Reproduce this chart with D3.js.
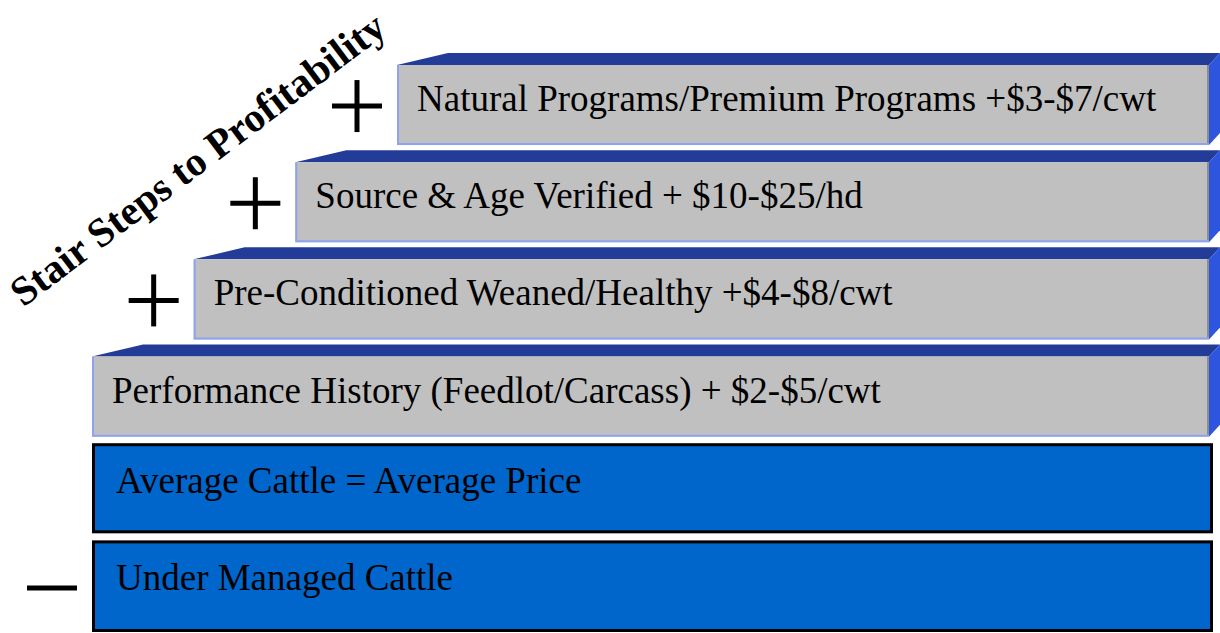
<!DOCTYPE html>
<html>
<head>
<meta charset="utf-8">
<script src="https://cdn.jsdelivr.net/npm/d3@7"></script>
<style>
  body { margin: 0; background: #ffffff; }
  svg { display: block; }
</style>
</head>
<body>
<div id="chart"></div>
<script>
// Data
const stepLabels = [
    "Under Managed Cattle",
    "Average Cattle = Average Price",
    "Performance History (Feedlot/Carcass) + $2-$5/cwt",
    "Pre-Conditioned Weaned/Healthy +$4-$8/cwt",
    "Source & Age Verified + $10-$25/hd",
    "Natural Programs/Premium Programs +$3-$7/cwt"
];
const stepKinds = ["flat", "flat", "raised", "raised", "raised", "raised"];
const stepIndent = [0, 0, 0, 1, 2, 3];
const stepSigns = ["minus", "", "", "plus", "plus", "plus"];
const titleText = "Stair Steps to Profitability";

// Config
const CONFIG = {
    width: 1220,
    height: 633,
    frontRight: 1209,
    flatRight: 1213,
    depth: 12,       // top face height
    sideWidth: 11,   // right face width
    bevel: 51,       // slanted start of top face
    fontSize: 37,
    font: "'Liberation Serif', 'Times New Roman', serif",
    colors: {
        front: "#c0c0c0",
        top: "#233c98",
        side: "#2d55dd",
        frontEdge: "#8ea2ee",
        flat: "#0066cc"
    }
};

const svg = d3.select("#chart")
    .append("svg")
    .attr("width", CONFIG.width)
    .attr("height", CONFIG.height);

const rows = d3.range(stepLabels.length);

const yScale = d3.scaleBand()
    .domain(rows)
    .range([631, 53])
    .paddingInner(0.052)
    .paddingOuter(0);

const xScale = d3.scaleLinear()
    .domain([0, 3])
    .range([92, 397]);

const bh = yScale.bandwidth();

// Steps
const steps = svg.selectAll(".step")
    .data(rows)
    .enter()
    .append("g")
    .attr("class", "step");

steps.each(function(i) {
    const g = d3.select(this);
    const x0 = xScale(stepIndent[i]);
    const y0 = yScale(i);

    if (stepKinds[i] === "flat") {
        const top = y0 + 3;
        const h = i === 0 ? bh - 3.5 : bh - 5;   // bottom box is a bit taller
        g.append("rect")
            .attr("x", x0 + 1.5)
            .attr("y", top)
            .attr("width", CONFIG.flatRight - x0 - 3)
            .attr("height", h)
            .attr("fill", CONFIG.colors.flat)
            .attr("stroke", "#000")
            .attr("stroke-width", 3);
        g.append("text")
            .attr("x", x0 + 24)
            .attr("y", top + 48)
            .attr("font-family", CONFIG.font)
            .attr("font-size", CONFIG.fontSize)
            .attr("fill", "#000")
            .text(stepLabels[i]);
    } else {
        const ft = y0 + CONFIG.depth;
        const fb = y0 + bh;
        const xr = CONFIG.frontRight;
        // top face
        g.append("path")
            .attr("d", `M${x0},${ft} L${x0 + CONFIG.bevel},${y0} L${xr + CONFIG.sideWidth},${y0} L${xr},${ft} Z`)
            .attr("fill", CONFIG.colors.top);
        // right face
        g.append("path")
            .attr("d", `M${xr},${ft} L${xr + CONFIG.sideWidth},${y0} L${xr + CONFIG.sideWidth},${fb - CONFIG.depth} L${xr},${fb} Z`)
            .attr("fill", CONFIG.colors.side);
        // front face
        g.append("rect")
            .attr("x", x0)
            .attr("y", ft)
            .attr("width", xr - x0)
            .attr("height", fb - ft)
            .attr("fill", CONFIG.colors.front);
        // light edges left + bottom
        g.append("path")
            .attr("d", `M${x0 + 1},${ft} L${x0 + 1},${fb - 1} L${xr},${fb - 1}`)
            .attr("fill", "none")
            .attr("stroke", CONFIG.colors.frontEdge)
            .attr("stroke-width", 2);
        g.append("line")
            .attr("x1", xr - 1).attr("x2", xr - 1)
            .attr("y1", ft).attr("y2", fb - 2)
            .attr("stroke", "#8c8c8c")
            .attr("stroke-width", 2);
        g.append("text")
            .attr("x", x0 + 20)
            .attr("y", ft + 46)
            .attr("font-family", CONFIG.font)
            .attr("font-size", CONFIG.fontSize)
            .attr("fill", "#000")
            .text(stepLabels[i]);
    }

    // plus / minus signs
    const sign = stepSigns[i];
    if (sign) {
        const cx = x0 - 40;
        const cy = stepKinds[i] === "flat" ? y0 + bh / 2 + 3 : y0 + CONFIG.depth + (bh - CONFIG.depth) / 2 + 1;
        g.append("line")
            .attr("x1", cx - 25).attr("x2", cx + 25)
            .attr("y1", cy).attr("y2", cy)
            .attr("stroke", "#000")
            .attr("stroke-width", 5);
        if (sign === "plus") {
            g.append("line")
                .attr("x1", cx).attr("x2", cx)
                .attr("y1", cy - 26).attr("y2", cy + 26)
                .attr("stroke", "#000")
                .attr("stroke-width", 5);
        }
    }
});

// Diagonal title
svg.append("text")
    .attr("transform", "translate(206,170) rotate(-37)")
    .attr("text-anchor", "middle")
    .attr("font-family", CONFIG.font)
    .attr("font-weight", "bold")
    .attr("font-size", 41)
    .attr("fill", "#000")
    .text(titleText);
</script>
</body>
</html>
